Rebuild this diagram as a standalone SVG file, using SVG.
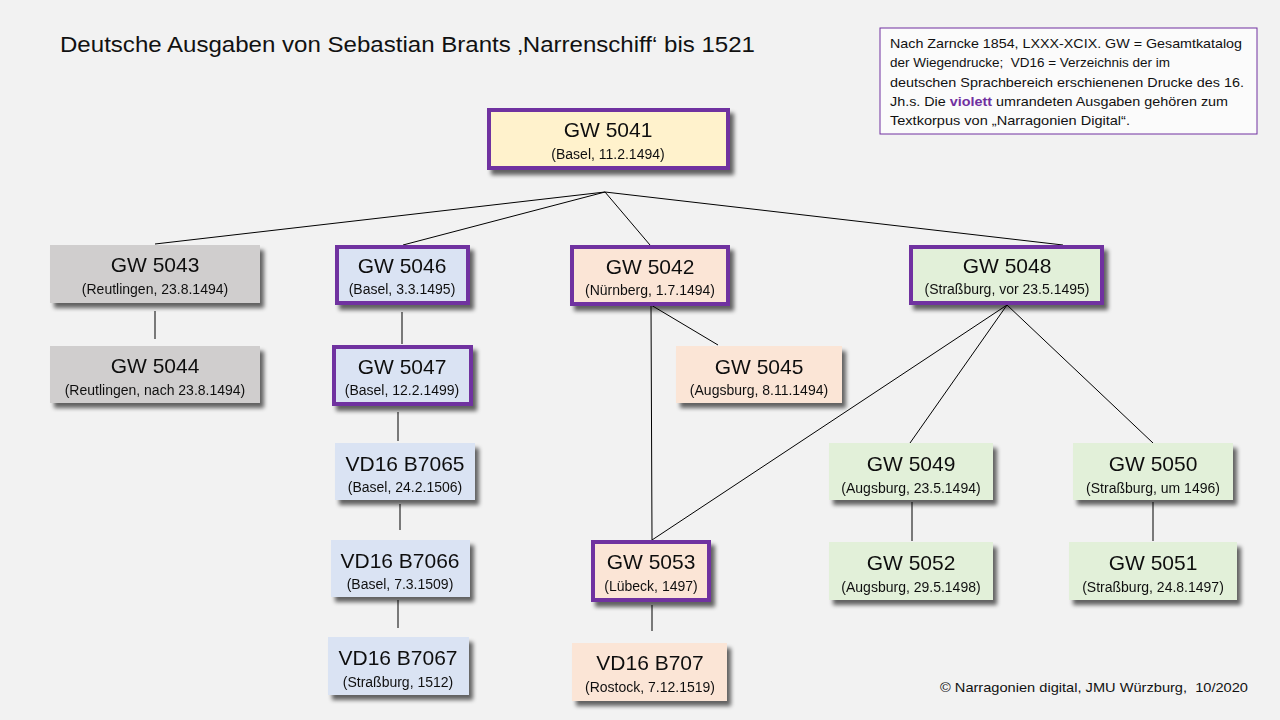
<svg xmlns="http://www.w3.org/2000/svg" width="1280" height="720" viewBox="0 0 1280 720">
<defs>
<filter id="sh" x="-10%" y="-20%" width="130%" height="160%">
<feGaussianBlur in="SourceAlpha" stdDeviation="2"/>
<feOffset dx="4" dy="5" result="b"/>
<feComponentTransfer><feFuncA type="linear" slope="0.6"/></feComponentTransfer>
<feMerge><feMergeNode/><feMergeNode in="SourceGraphic"/></feMerge>
</filter>
</defs>
<style>
text{font-family:"Liberation Sans",Arial,sans-serif;fill:#111}
.t{font-size:21px;text-anchor:middle}
.s{font-size:14px;text-anchor:middle}
.n{filter:url(#sh)}
.v{stroke:#7030a0;stroke-width:4}
.y{fill:#fff2cc}.g{fill:#d0cece}.b{fill:#dae3f3}.o{fill:#fbe5d6}.gr{fill:#e2f0d9}
.info{font-size:13px}
#connectors line{stroke:#000;stroke-width:1}
</style>
<rect width="1280" height="720" fill="#f2f2f2"/>
<text x="60" y="52" font-size="22" textLength="695" lengthAdjust="spacingAndGlyphs">Deutsche Ausgaben von Sebastian Brants ‚Narrenschiff‘ bis 1521</text>
<g id="info">
<rect x="880" y="28" width="377" height="106" fill="#fbfbfb" stroke="#7030a0" stroke-width="1"/>
<text class="info" x="890" y="48" textLength="352" lengthAdjust="spacingAndGlyphs">Nach Zarncke 1854, LXXX-XCIX. GW = Gesamtkatalog</text>
<text class="info" x="890" y="67" textLength="280" lengthAdjust="spacingAndGlyphs" xml:space="preserve">der Wiegendrucke;  VD16 = Verzeichnis der im</text>
<text class="info" x="890" y="87" textLength="354" lengthAdjust="spacingAndGlyphs">deutschen Sprachbereich erschienenen Drucke des 16.</text>
<text class="info" x="890" y="106" textLength="338" lengthAdjust="spacingAndGlyphs">Jh.s. Die <tspan font-weight="bold" fill="#7030a0">violett</tspan> umrandeten Ausgaben gehören zum</text>
<text class="info" x="890" y="125" textLength="240" lengthAdjust="spacingAndGlyphs">Textkorpus von „Narragonien Digital“.</text>
</g>
<g id="connectors">
<line x1="605" y1="192" x2="155" y2="244"/>
<line x1="605" y1="192" x2="403" y2="245"/>
<line x1="605" y1="192" x2="650" y2="245"/>
<line x1="605" y1="192" x2="1063" y2="245"/>
<line x1="155" y1="311" x2="155" y2="339"/>
<line x1="402" y1="312" x2="402" y2="344"/>
<line x1="398" y1="412" x2="398" y2="441"/>
<line x1="400" y1="504" x2="400" y2="530"/>
<line x1="398" y1="600" x2="398" y2="628"/>
<line x1="651" y1="305" x2="652" y2="540"/>
<line x1="651" y1="305" x2="718" y2="345"/>
<line x1="1007" y1="305" x2="652" y2="540"/>
<line x1="1007" y1="305" x2="910" y2="443"/>
<line x1="1007" y1="305" x2="1153" y2="443"/>
<line x1="652" y1="605" x2="652" y2="631"/>
<line x1="912" y1="502" x2="912" y2="541"/>
<line x1="1153" y1="502" x2="1153" y2="541"/>
</g>
<g id="gw5041" class="n"><rect class="y v" x="489" y="110" width="239" height="58"/><text class="t" x="608" y="137">GW 5041</text><text class="s" x="608" y="159">(Basel, 11.2.1494)</text></g>
<g id="gw5043" class="n"><rect class="g" x="50" y="245" width="210" height="58"/><text class="t" x="155" y="272">GW 5043</text><text class="s" x="155" y="294">(Reutlingen, 23.8.1494)</text></g>
<g id="gw5044" class="n"><rect class="g" x="50" y="346" width="210" height="57"/><text class="t" x="155" y="373">GW 5044</text><text class="s" x="155" y="395">(Reutlingen, nach 23.8.1494)</text></g>
<g id="gw5046" class="n"><rect class="b v" x="337" y="247" width="131" height="56"/><text class="t" x="402" y="273">GW 5046</text><text class="s" x="402" y="294">(Basel, 3.3.1495)</text></g>
<g id="gw5047" class="n"><rect class="b v" x="334" y="347" width="137" height="57"/><text class="t" x="402" y="374">GW 5047</text><text class="s" x="402" y="395">(Basel, 12.2.1499)</text></g>
<g id="vd7065" class="n"><rect class="b" x="335" y="443" width="140" height="57"/><text class="t" x="405" y="471">VD16 B7065</text><text class="s" x="405" y="492">(Basel, 24.2.1506)</text></g>
<g id="vd7066" class="n"><rect class="b" x="331" y="540" width="139" height="57"/><text class="t" x="400" y="568">VD16 B7066</text><text class="s" x="400" y="589">(Basel, 7.3.1509)</text></g>
<g id="vd7067" class="n"><rect class="b" x="328" y="637" width="141" height="58"/><text class="t" x="398" y="665">VD16 B7067</text><text class="s" x="398" y="687">(Straßburg, 1512)</text></g>
<g id="gw5042" class="n"><rect class="o v" x="572" y="247" width="156" height="57"/><text class="t" x="650" y="274">GW 5042</text><text class="s" x="650" y="295">(Nürnberg, 1.7.1494)</text></g>
<g id="gw5045" class="n"><rect class="o" x="676" y="346" width="166" height="57"/><text class="t" x="759" y="374">GW 5045</text><text class="s" x="759" y="395">(Augsburg, 8.11.1494)</text></g>
<g id="gw5053" class="n"><rect class="o v" x="593" y="542" width="116" height="58"/><text class="t" x="651" y="569">GW 5053</text><text class="s" x="651" y="591">(Lübeck, 1497)</text></g>
<g id="vd707" class="n"><rect class="o" x="572" y="643" width="155" height="58"/><text class="t" x="650" y="670">VD16 B707</text><text class="s" x="650" y="692">(Rostock, 7.12.1519)</text></g>
<g id="gw5048" class="n"><rect class="gr v" x="911" y="247" width="191" height="56"/><text class="t" x="1007" y="273">GW 5048</text><text class="s" x="1007" y="294">(Straßburg, vor 23.5.1495)</text></g>
<g id="gw5049" class="n"><rect class="gr" x="829" y="443" width="164" height="57"/><text class="t" x="911" y="471">GW 5049</text><text class="s" x="911" y="493">(Augsburg, 23.5.1494)</text></g>
<g id="gw5050" class="n"><rect class="gr" x="1073" y="443" width="160" height="57"/><text class="t" x="1153" y="471">GW 5050</text><text class="s" x="1153" y="493">(Straßburg, um 1496)</text></g>
<g id="gw5052" class="n"><rect class="gr" x="829" y="542" width="164" height="58"/><text class="t" x="911" y="570">GW 5052</text><text class="s" x="911" y="592">(Augsburg, 29.5.1498)</text></g>
<g id="gw5051" class="n"><rect class="gr" x="1069" y="542" width="168" height="58"/><text class="t" x="1153" y="570">GW 5051</text><text class="s" x="1153" y="592">(Straßburg, 24.8.1497)</text></g>
<text x="940" y="692" font-size="13.5" textLength="308" lengthAdjust="spacingAndGlyphs" xml:space="preserve">© Narragonien digital, JMU Würzburg,  10/2020</text>
</svg>
